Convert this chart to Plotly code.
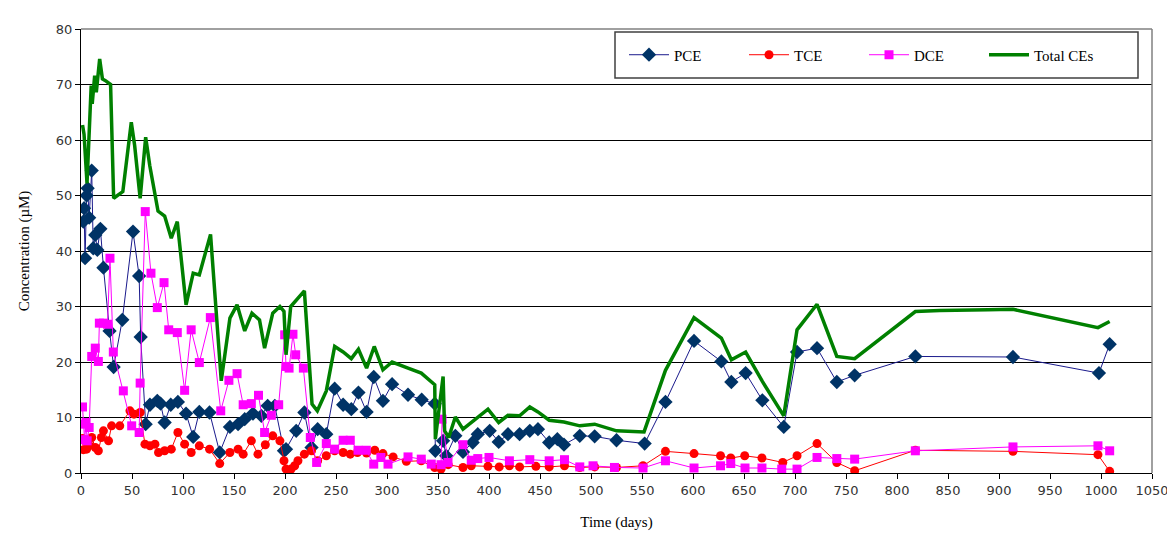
import plotly.graph_objects as go

# ---------------- data ----------------
pce_days = [2.3, 3, 4, 5.5, 6.5, 8, 10.5, 12, 14, 16, 19, 22, 28, 32, 40.5, 51, 57, 58.5, 63.4, 67.6,
            74.8, 78, 82, 88, 95, 103, 110, 116, 126, 136, 146, 154, 160.5, 168.6, 176.8, 183, 190,
            199, 201, 211, 219, 226, 232, 240.5, 248.7, 257, 265, 272, 280, 287, 296, 305, 320.6, 334,
            346.8, 347.4, 355, 358, 367, 374.5, 384, 389, 400.7, 409.5, 418.6, 430, 440, 448, 459, 467,
            473.5, 489, 503.6, 525, 552.6, 573, 601, 627.8, 637.6, 651.6, 668, 689, 702, 721.6, 741,
            758.5, 818, 913.7, 998, 1008.5]
pce_vals = [45.3, 47.7, 38.7, 50, 51.3, 46, 54.5, 40.5, 42.9, 40.2, 44, 37, 25.6, 19.1, 27.6, 43.5, 35.5,
            24.5, 8.8, 12.3, 13, 12.5, 9.1, 12.3, 12.8, 10.7, 6.5, 11, 10.9, 3.7, 8.3, 8.8, 9.7, 10.7,
            10.3, 12.1, 12.1, 4, 4.3, 7.6, 10.9, 4.6, 7.9, 7, 15.2, 12.3, 11.5, 14.5, 11, 17.3, 13, 16,
            14.1, 13.2, 12.5, 4, 5.8, 3.1, 6.7, 3.8, 5.5, 7, 7.6, 5.6, 7, 7, 7.6, 7.9, 5.5, 6.1, 5.1,
            6.7, 6.6, 5.9, 5.3, 12.8, 23.8, 20.1, 16.4, 18, 13.1, 8.3, 21.8, 22.5, 16.4, 17.6, 21,
            20.9, 18, 23.2]

tce_days = [1.5, 2.5, 4, 5.5, 8, 10.5, 14, 17, 20, 22, 27, 30, 38, 48, 52, 58, 62.7, 67.6, 72.5, 76,
            82, 88.5, 95, 101.6, 108, 116, 126, 136, 146, 154, 159, 167, 173.5, 180.7, 188, 195, 199,
            201, 206, 209.5, 212.7, 219, 226, 232, 240.5, 248.7, 257, 264, 271, 280, 288, 296, 306,
            319, 333.6, 346.8, 353, 360, 374.5, 382.6, 399, 410, 420, 430, 446, 459, 474, 489, 503.6,
            525, 551, 573, 601, 627, 637, 650.7, 667.6, 688, 702, 721.6, 741, 758.5, 818, 913.7, 997,
            1008.5]
tce_vals = [6.2, 4.2, 5.8, 4.3, 5, 6.4, 4.6, 4, 6.4, 7.6, 5.8, 8.5, 8.5, 11.2, 10.6, 10.9, 5.2, 4.9, 5.2,
            3.7, 4, 4.3, 7.3, 5.2, 3.7, 4.9, 4.3, 1.7, 3.7, 4.3, 3.4, 5.8, 3.4, 5.1, 6.7, 5.8, 2.2, 0.7,
            0.7, 1.3, 2.2, 3.4, 4, 2.2, 3.1, 4, 3.7, 3.4, 3.7, 3.6, 4.1, 3.5, 2.9, 2.1, 2.2, 1, 0.7, 1.5,
            1, 1.3, 1.2, 1.1, 1.3, 1.1, 1.2, 1.1, 1.3, 1.0, 1.1, 1.0, 1.3, 3.9, 3.5, 3.1, 2.7, 3.1, 2.7,
            1.9, 3.1, 5.3, 1.9, 0.4, 4.1, 3.9, 3.3, 0.3]

dce_days = [1.5, 2.5, 3.5, 5, 6, 8, 10.5, 14, 17, 18, 22, 26, 28.4, 31.7, 41.5, 49.7, 57, 58, 63, 68.6,
            74.8, 81.4, 86, 94.4, 101.6, 108, 116, 126.8, 137, 145, 153, 159, 167, 174, 180, 186.6,
            193.8, 199.7, 201, 204, 207.8, 210.5, 218, 224.8, 231, 240.5, 248.7, 257, 264, 271.6, 279.7,
            287, 294, 301, 320.6, 333.6, 343.4, 353, 354, 359.8, 374.5, 382.6, 389, 400, 420, 440, 459,
            474, 489, 502, 523, 551, 573, 601, 627, 637, 651, 667.6, 687, 702, 721.6, 741, 758.5, 818,
            913.7, 997, 1008.5]
dce_vals = [11.9, 8.8, 6, 9.1, 5.8, 8.2, 21, 22.5, 20.1, 27, 27, 26.8, 38.7, 21.8, 14.8, 8.5, 7.3, 16.2,
            47.1, 36, 29.8, 34.3, 25.8, 25.3, 14.9, 25.8, 19.9, 28, 11.2, 16.7, 17.9, 12.3, 12.5, 14,
            7.3, 10.4, 12.3, 24.9, 19.2, 18.9, 25, 21.3, 18.9, 6.4, 1.9, 5.3, 4.3, 5.9, 5.9, 4.1, 4.1,
            1.6, 2.8, 1.6, 2.9, 2.5, 1.6, 1.5, 9.7, 1.9, 5.1, 2.3, 2.6, 2.8, 2.2, 2.4, 2.2, 2.4, 1.1,
            1.3, 1.0, 0.9, 2.2, 0.9, 1.3, 1.7, 0.9, 0.9, 0.7, 0.7, 2.8, 2.6, 2.5, 4, 4.7, 4.9, 4]

total_days = [1.5, 3, 5.9, 8.5, 10, 11, 13.4, 15, 18.3, 21, 24, 29, 32, 41, 49.3, 52.6, 58, 63.4, 67.4,
              75.5, 82, 88.5, 94.4, 103, 110, 116, 127, 137.5, 146, 153, 160.5, 167.6, 175, 180, 188,
              195, 199, 201, 205.6, 219, 226.5, 231.7, 240.5, 248.7, 257, 265, 272, 280, 287.5, 296,
              305, 320.6, 333.6, 346.8, 347.4, 355, 356.5, 360.5, 367, 374.5, 389, 399, 409.5, 418.6,
              430, 440, 448, 459, 473.5, 489, 503.6, 525, 552, 573, 601, 627.8, 637.6, 651.6, 668, 689,
              702, 721.6, 741, 758.5, 818, 842, 889, 913.7, 997, 1008.5]
total_vals = [62.7, 61, 52.2, 63.8, 69.8, 66.5, 71.6, 68.6, 74.6, 71, 70.7, 70, 49.5, 50.7, 63.2, 59,
              49.5, 60.5, 55.4, 47.2, 46.3, 42.3, 45.3, 30.3, 36, 35.7, 43, 16.6, 27.9, 30.3, 25.6,
              28.8, 27.6, 22.5, 28.8, 30, 29.1, 21.3, 30, 32.8, 12.4, 11.2, 14.8, 22.8, 21.8, 20.6,
              22.3, 18.9, 22.8, 18.6, 20, 18.9, 18, 15.9, 6.1, 17.4, 7.6, 6.4, 10.1, 7.9, 10, 11.5, 9.1,
              10.4, 10.3, 11.9, 11, 9.5, 9.2, 8.5, 8.8, 7.6, 7.4, 18.5, 28, 24.3, 20.4, 21.8, 16.5, 10.3,
              25.8, 30.4, 21, 20.6, 29.1, 29.3, 29.4, 29.5, 26.2, 27.3]

x_ticks = list(range(0, 1051, 50))
y_ticks = list(range(0, 81, 10))

# ---------------- figure ----------------
fig = go.Figure()
fig.add_trace(go.Scatter(x=pce_days, y=pce_vals, name="PCE", mode="lines+markers",
                         line=dict(color="#1a1a8c", width=1),
                         marker=dict(symbol="diamond", size=11, color="#003366")))
fig.add_trace(go.Scatter(x=tce_days, y=tce_vals, name="TCE", mode="lines+markers",
                         line=dict(color="#FF0000", width=1),
                         marker=dict(symbol="circle", size=9, color="#FF0000")))
fig.add_trace(go.Scatter(x=dce_days, y=dce_vals, name="DCE", mode="lines+markers",
                         line=dict(color="#FF00FF", width=1),
                         marker=dict(symbol="square", size=9, color="#FF00FF")))
fig.add_trace(go.Scatter(x=total_days, y=total_vals, name="Total CEs", mode="lines",
                         line=dict(color="#008000", width=3.5)))

W, H = 1175, 536
L, R, T, B = 73, 1144, 21, 465.5


def px_x(p):
    return (p - L) / (R - L)


def px_y(p):
    return (B - p) / (B - T)


fig.update_layout(
    width=W, height=H,
    margin=dict(l=L, r=W - R, t=T, b=H - B, autoexpand=False),
    paper_bgcolor="white", plot_bgcolor="white",
    font=dict(family="Liberation Serif", color="#000000"),
    showlegend=True,
    legend=dict(orientation="h", x=px_x(616), y=px_y(47), xanchor="left", yanchor="middle",
                borderwidth=0, bgcolor="rgba(0,0,0,0)",
                font=dict(family="Liberation Serif", size=15),
                entrywidth=65, entrywidthmode="pixels", itemwidth=40),
    xaxis=dict(range=[0, 1050], tickmode="array", tickvals=x_ticks,
               ticks="outside", ticklen=5, tickcolor="#000", showline=True, linecolor="#000",
               linewidth=1, showgrid=False, zeroline=False,
               tickfont=dict(family="DejaVu Sans", size=13, color="#333"),
               title=dict(text="Time (days)", font=dict(family="Liberation Serif", size=15),
                          standoff=19)),
    yaxis=dict(range=[0, 80], tickmode="array", tickvals=y_ticks,
               ticks="outside", ticklen=5, tickcolor="#000", showline=True, linecolor="#000",
               linewidth=1, showgrid=True, gridcolor="#000", gridwidth=1, zeroline=False,
               tickfont=dict(family="DejaVu Sans", size=13, color="#333"),
               title=dict(text="Concentration (µM)", font=dict(family="Liberation Serif", size=15),
                          standoff=22)),
    shapes=[
        dict(type="line", xref="paper", yref="paper", x0=0, x1=1, y0=1, y1=1,
             line=dict(color="#808080", width=1.5)),
        dict(type="line", xref="paper", yref="paper", x0=1, x1=1, y0=0, y1=1,
             line=dict(color="#808080", width=1.5)),
        dict(type="line", xref="paper", yref="paper", x0=px_x(1165), x1=px_x(1165),
             y0=px_y(536), y1=px_y(0), line=dict(color="#808080", width=1.5, dash="dot")),
        dict(type="rect", xref="paper", yref="paper", x0=px_x(607), x1=px_x(1130),
             y0=px_y(70), y1=px_y(24), line=dict(color="#404040", width=1.5),
             fillcolor="white", layer="above"),
    ],
)

fig.write_html("out.html")
